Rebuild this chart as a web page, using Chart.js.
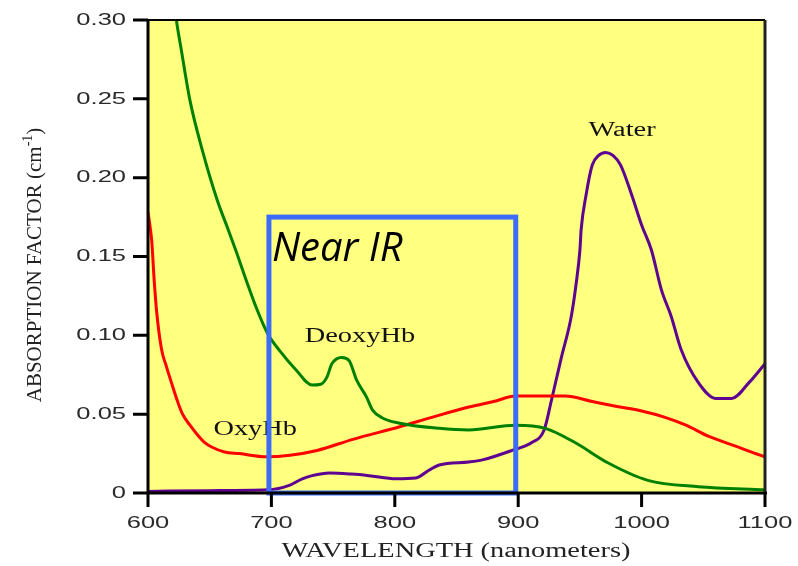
<!DOCTYPE html>
<html>
<head>
<meta charset="utf-8">
<script src="https://cdn.jsdelivr.net/npm/chart.js@4/dist/chart.umd.min.js"></script>
<style>
  html, body { margin: 0; padding: 0; background: #fff; }
  #grafiku { display: block; }
</style>
</head>
<body>
<canvas id="grafiku" width="798" height="566"></canvas>
<script>
// vlerat e lexuara nga figura (gjatesia e vales nm, faktori i absorbimit cm-1)
const deoxyX = [620, 623, 627, 634, 644, 656, 665, 672, 680, 688, 697, 707, 720, 733, 740, 745, 749, 757, 763, 769, 777, 782, 790, 803, 836, 860, 898, 922, 946, 973, 1005, 1046, 1100];
const deoxyY = [0.32, 0.30, 0.281, 0.249, 0.2175, 0.186, 0.167, 0.152, 0.134, 0.117, 0.101, 0.090, 0.078, 0.0685, 0.069, 0.0735, 0.082, 0.086, 0.084, 0.0717, 0.061, 0.0526, 0.0476, 0.0444, 0.041, 0.040, 0.043, 0.041, 0.032, 0.019, 0.008, 0.004, 0.002];

const oxyX = [600, 601.5, 603, 605, 607, 611, 615, 619, 624, 628, 634, 640, 646, 652, 662, 674, 696, 715, 737, 766, 804, 830, 860, 880, 898, 938, 960, 979, 1000, 1019, 1036, 1054, 1075, 1096, 1100];
const oxyY = [0.178, 0.170, 0.160, 0.135, 0.115, 0.091, 0.080, 0.070, 0.058, 0.050, 0.043, 0.037, 0.032, 0.029, 0.026, 0.025, 0.023, 0.024, 0.027, 0.034, 0.042, 0.048, 0.0545, 0.058, 0.0615, 0.0615, 0.058, 0.055, 0.052, 0.048, 0.043, 0.036, 0.030, 0.024, 0.023];

const waterX = [600, 650, 697, 715, 725, 733, 747, 765, 779, 801, 817, 828, 836, 860, 871, 895, 911, 921, 927, 935, 943, 947, 950, 951, 955, 960, 965, 971, 977, 983, 992, 1000, 1008, 1016, 1024, 1032, 1046, 1060, 1073, 1087, 1100];
const waterY = [0.001, 0.0015, 0.002, 0.005, 0.009, 0.011, 0.0127, 0.012, 0.011, 0.009, 0.0095, 0.0146, 0.0178, 0.0197, 0.021, 0.027, 0.032, 0.040, 0.059, 0.086, 0.112, 0.133, 0.154, 0.167, 0.189, 0.208, 0.214, 0.216, 0.214, 0.208, 0.189, 0.170, 0.154, 0.129, 0.112, 0.091, 0.070, 0.060, 0.060, 0.070, 0.082];

const xTicks = [600, 700, 800, 900, 1000, 1100];
const yTicks = [0, 0.05, 0.10, 0.15, 0.20, 0.25, 0.30];
const yTickLabels = ['0', '0.05', '0.10', '0.15', '0.20', '0.25', '0.30'];

// kutia "Near IR" ne njesite e te dhenave
const nearIR = { from: 698, to: 898, top: 0.175 };

// emertimet e kurbave (pozicioni ne njesite e te dhenave)
const curveLabels = [
  { text: 'Water', x: 957, y: 0.2265 },
  { text: 'DeoxyHb', x: 727, y: 0.096 },
  { text: 'OxyHb', x: 653, y: 0.037 }
];

function bashko(xs, ys) {
  return xs.map((x, i) => ({ x: x, y: ys[i] }));
}

function tekstIZgjeruar(ctx, t, x, y, align, sx) {
  ctx.save();
  ctx.translate(x, y);
  ctx.scale(sx, 1);
  ctx.textAlign = align;
  ctx.fillText(t, 0, 0);
  ctx.restore();
}

const vizatimi = {
  id: 'vizatimi',
  beforeDraw(chart) {
    const { ctx, chartArea: a } = chart;
    ctx.save();
    ctx.fillStyle = '#ffffff';
    ctx.fillRect(0, 0, chart.width, chart.height);
    ctx.fillStyle = '#ffff80';
    ctx.fillRect(a.left, a.top, a.right - a.left, a.bottom - a.top);
    ctx.restore();
  },
  afterDatasetsDraw(chart) {
    const { ctx, chartArea: a } = chart;
    const sx = chart.scales.x, sy = chart.scales.y;
    ctx.save();

    // emertimet e kurbave
    ctx.fillStyle = '#111';
    ctx.font = '20px "Liberation Serif", "Times New Roman", serif';
    ctx.textBaseline = 'alphabetic';
    curveLabels.forEach(l => {
      tekstIZgjeruar(ctx, l.text, sx.getPixelForValue(l.x), sy.getPixelForValue(l.y), 'left', 1.42);
    });

    // kutia blu
    const bx0 = sx.getPixelForValue(nearIR.from), bx1 = sx.getPixelForValue(nearIR.to);
    const by0 = sy.getPixelForValue(nearIR.top), by1 = sy.getPixelForValue(0);
    ctx.strokeStyle = '#3d6df8';
    ctx.lineWidth = 5;
    ctx.strokeRect(bx0, by0, bx1 - bx0, by1 - by0);

    // korniza dhe boshtet
    ctx.strokeStyle = '#000';
    ctx.lineWidth = 2;
    ctx.beginPath();
    ctx.moveTo(a.left, a.top); ctx.lineTo(a.right, a.top);
    ctx.stroke();
    ctx.strokeStyle = '#222';
    ctx.lineWidth = 3;
    ctx.beginPath();
    ctx.moveTo(a.right, a.top); ctx.lineTo(a.right, a.bottom);
    ctx.stroke();
    ctx.strokeStyle = '#000';
    ctx.beginPath();
    ctx.moveTo(a.left, a.top); ctx.lineTo(a.left, a.bottom);
    ctx.moveTo(a.left - 15, a.bottom); ctx.lineTo(a.right + 2, a.bottom);
    yTicks.forEach(v => {
      const py = sy.getPixelForValue(v);
      ctx.moveTo(a.left - 15, py); ctx.lineTo(a.left, py);
    });
    xTicks.forEach(v => {
      const px = sx.getPixelForValue(v);
      ctx.moveTo(px, a.bottom); ctx.lineTo(px, a.bottom + 14);
    });
    ctx.stroke();

    // etiketat e ndarjeve
    ctx.fillStyle = '#2a2a2a';
    ctx.font = '17px "Liberation Sans", Arial, sans-serif';
    ctx.textBaseline = 'middle';
    yTicks.forEach((v, i) => {
      tekstIZgjeruar(ctx, yTickLabels[i], a.left - 22, sy.getPixelForValue(v), 'right', 1.5);
    });
    xTicks.forEach(v => {
      tekstIZgjeruar(ctx, String(v), sx.getPixelForValue(v), a.bottom + 30, 'center', 1.5);
    });

    // titujt e boshteve
    ctx.fillStyle = '#222';
    ctx.font = '20px "Liberation Serif", "Times New Roman", serif';
    tekstIZgjeruar(ctx, 'WAVELENGTH (nanometers)', 456, 552, 'center', 1.42);

    ctx.save();
    ctx.translate(41, 265);
    ctx.rotate(-Math.PI / 2);
    ctx.textBaseline = 'alphabetic';
    ctx.textAlign = 'left';
    const pjesa1 = 'ABSORPTION FACTOR (cm';
    ctx.font = '21px "Liberation Serif", "Times New Roman", serif';
    const w1 = ctx.measureText(pjesa1).width;
    const w3 = ctx.measureText(')').width;
    ctx.font = '14px "Liberation Serif", "Times New Roman", serif';
    const w2 = ctx.measureText('-1').width;
    let x0 = -(w1 + w2 + w3) / 2;
    ctx.font = '21px "Liberation Serif", "Times New Roman", serif';
    ctx.fillText(pjesa1, x0, 0);
    ctx.font = '14px "Liberation Serif", "Times New Roman", serif';
    ctx.fillText('-1', x0 + w1, -9);
    ctx.font = '21px "Liberation Serif", "Times New Roman", serif';
    ctx.fillText(')', x0 + w1 + w2, 0);
    ctx.restore();

    // teksti Near IR
    ctx.fillStyle = '#000';
    ctx.font = 'italic 40px "Open Sans", "Noto Sans", sans-serif';
    ctx.textAlign = 'left';
    ctx.textBaseline = 'alphabetic';
    ctx.fillText('Near IR', bx0 + 3, 261);

    ctx.restore();
  }
};

const ctx = document.getElementById('grafiku').getContext('2d');
new Chart(ctx, {
  type: 'line',
  data: {
    datasets: [
      { label: 'DeoxyHb', data: bashko(deoxyX, deoxyY), borderColor: '#008000', borderWidth: 3, pointRadius: 0, tension: 0.3, cubicInterpolationMode: 'monotone' },
      { label: 'OxyHb', data: bashko(oxyX, oxyY), borderColor: '#ff0000', borderWidth: 3, pointRadius: 0, tension: 0.3, cubicInterpolationMode: 'monotone' },
      { label: 'Water', data: bashko(waterX, waterY), borderColor: '#5e0490', borderWidth: 3, pointRadius: 0, tension: 0.3, cubicInterpolationMode: 'monotone' }
    ]
  },
  options: {
    responsive: false,
    animation: false,
    devicePixelRatio: 1,
    layout: { padding: { top: 20, right: 33, left: 0, bottom: 0 } },
    plugins: { legend: { display: false }, tooltip: { enabled: false } },
    scales: {
      x: {
        type: 'linear', min: 600, max: 1100,
        grid: { display: false }, border: { display: false },
        ticks: { display: false, stepSize: 100 },
        afterFit(s) { s.height = 73; }
      },
      y: {
        type: 'linear', min: 0, max: 0.3,
        grid: { display: false }, border: { display: false },
        ticks: { display: false, stepSize: 0.05 },
        afterFit(s) { s.width = 148; }
      }
    }
  },
  plugins: [vizatimi]
});
</script>
</body>
</html>
